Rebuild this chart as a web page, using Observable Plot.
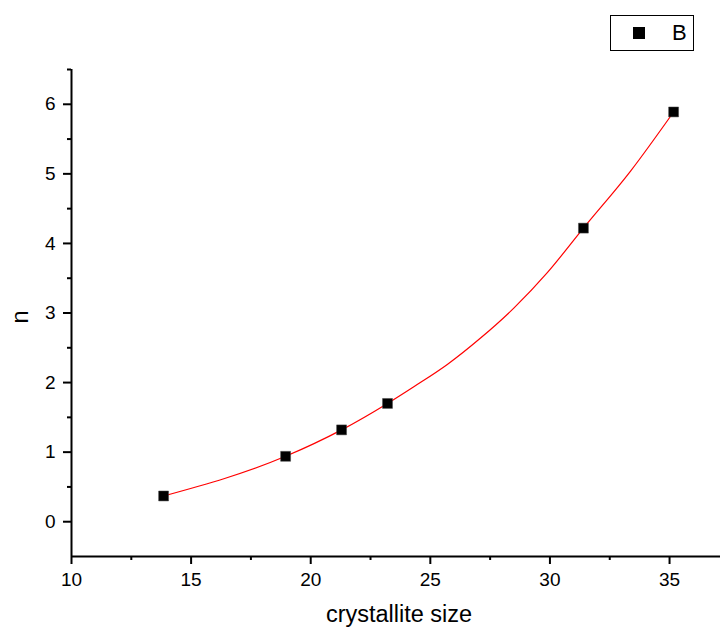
<!DOCTYPE html>
<html>
<head>
<meta charset="utf-8">
<script src="https://cdn.jsdelivr.net/npm/d3@7"></script>
<script src="https://cdn.jsdelivr.net/npm/@observablehq/plot@0.6"></script>
<style>
  html, body { margin: 0; padding: 0; background: #fff; }
  #wrap { position: relative; width: 720px; height: 629px; font-family: "Liberation Sans", Arial, sans-serif; }
  #legend { position: absolute; left: 610px; top: 15px; width: 84px; height: 36px; box-sizing: border-box;
            border: 1.5px solid #000; background: #fff; }
  #legend .sym { position: absolute; left: 22px; top: 11px; width: 12px; height: 12px; background: #000; }
  #legend .lab { position: absolute; left: 61px; top: 4px; font-size: 22px; line-height: 26px; color: #000; }
</style>
</head>
<body>
<div id="wrap"><div id="legend"><div class="sym"></div><div class="lab">B</div></div></div>
<script>
// Data points (series B)
const crystalliteSize = [13.85, 18.95, 21.29, 23.21, 31.40, 35.17];
const nValues = [0.37, 0.94, 1.32, 1.70, 4.22, 5.89];

// Fitted curve, points
const fitX = [13.85, 18.95, 21.29, 23.21, 24.31, 25.71, 27.10, 28.49, 29.89, 31.40, 33.37, 35.17];
const fitY = [0.37, 0.94, 1.32, 1.70, 1.94, 2.26, 2.64, 3.07, 3.58, 4.22, 5.04, 5.89];

// Tick labels
const xTicks = [10, 15, 20, 25, 30, 35];
const xMinorTicks = [12.5, 17.5, 22.5, 27.5, 32.5];
const yTicks = [0, 1, 2, 3, 4, 5, 6];
const yMinorTicks = [0.5, 1.5, 2.5, 3.5, 4.5, 5.5, 6.5];

const xLabel = "crystallite size";
const yLabel = "n";

const points = crystalliteSize.map((x, i) => ({x, y: nValues[i]}));
const fit = fitX.map((x, i) => ({x, y: fitY[i]}));

const chart = Plot.plot({
  width: 720,
  height: 629,
  marginTop: 69,
  marginRight: 0,
  marginBottom: 73,
  marginLeft: 71,
  style: {fontFamily: "'Liberation Sans', Arial, sans-serif", fontSize: "18px", color: "#000", background: "#fff", overflow: "visible"},
  x: {domain: [10, 37.13]},
  y: {domain: [-0.5, 6.5]},
  marks: [
    Plot.axisX(xTicks, {tickSize: 8, tickPadding: 8, strokeWidth: 2, fontSize: 19, tickFormat: d => String(d), label: null}),
    Plot.axisX(xMinorTicks, {tickSize: 4, strokeWidth: 2, tickFormat: () => "", label: null}),
    Plot.axisY(yTicks, {tickSize: 8, tickPadding: 8, strokeWidth: 2, fontSize: 19, tickFormat: d => String(d), label: null}),
    Plot.axisY(yMinorTicks, {tickSize: 4, strokeWidth: 2, tickFormat: () => "", label: null}),
    Plot.ruleY([-0.5], {strokeWidth: 2, stroke: "#000"}),
    Plot.ruleX([10], {strokeWidth: 2, stroke: "#000"}),
    Plot.line(fit, {x: "x", y: "y", stroke: "#ff0000", strokeWidth: 1.2, curve: "monotone-x"}),
    Plot.dot(points, {x: "x", y: "y", symbol: "square", r: 5.6, fill: "#000", stroke: "#444", strokeWidth: 0.5}),
    Plot.text([xLabel], {frameAnchor: "bottom", dy: 58, dx: 3, fontSize: 23.5, lineAnchor: "middle", fill: "#000"}),
    Plot.text([yLabel], {frameAnchor: "left", dx: -51, dy: 10.5, rotate: -90, fontSize: 23.5, lineAnchor: "middle", fill: "#000"})
  ]
});
document.getElementById("wrap").prepend(chart);
</script>
</body>
</html>
